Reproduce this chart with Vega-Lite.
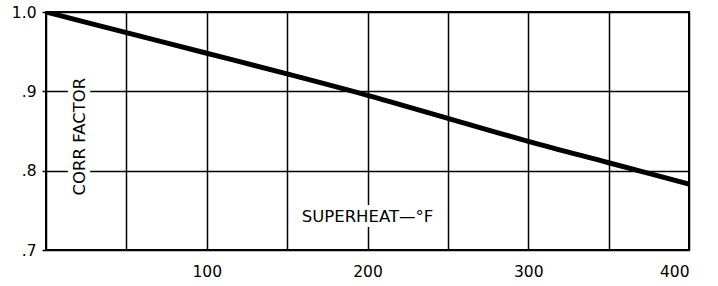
{
  "$schema": "https://vega.github.io/schema/vega-lite/v6.json",
  "width": 643,
  "height": 238,
  "autosize": "none",
  "padding": {"left": 46, "top": 12, "right": 29, "bottom": 36},
  "background": "white",
  "config": {
    "view": {"stroke": "black", "strokeWidth": 2},
    "font": "DejaVu Sans"
  },
  "datasets": {
    "labels": [
      {"sh": 21, "cf": 0.843, "t": "CORR FACTOR", "a": 270},
      {"sh": 200, "cf": 0.742, "t": "SUPERHEAT—°F", "a": 0}
    ]
  },
  "layer": [
    {
      "data": {"values": [
        {"sh": 0, "cf": 1.0},
        {"sh": 50, "cf": 0.974},
        {"sh": 100, "cf": 0.948},
        {"sh": 150, "cf": 0.922},
        {"sh": 200, "cf": 0.895},
        {"sh": 250, "cf": 0.866},
        {"sh": 300, "cf": 0.837},
        {"sh": 350, "cf": 0.810},
        {"sh": 400, "cf": 0.783}
      ]},
      "mark": {"type": "line", "color": "black", "strokeWidth": 5, "clip": true, "interpolate": "monotone"},
      "encoding": {
        "x": {"field": "sh", "type": "quantitative",
          "scale": {"domain": [0, 400], "nice": false},
          "axis": {"values": [0, 50, 100, 150, 200, 250, 300, 350, 400],
            "labelExpr": "datum.value % 100 == 0 && datum.value > 0 ? datum.label : ''",
            "title": null, "ticks": false, "domain": false,
            "grid": true, "gridColor": "black", "gridOpacity": 1, "gridWidth": 1.5,
            "labelFontSize": 15.5, "labelColor": "black", "labelPadding": 14, "labelFont": "DejaVu Sans"}},
        "y": {"field": "cf", "type": "quantitative",
          "scale": {"domain": [0.7, 1.0], "nice": false, "zero": false},
          "axis": {"values": [0.7, 0.8, 0.9, 1.0],
            "labelExpr": "datum.value >= 0.99 ? '1.0' : replace(format(datum.value, '.1f'), '0.', '.')",
            "title": null, "ticks": true, "tickColor": "black", "tickSize": 4, "tickWidth": 1.5, "domain": false,
            "grid": true, "gridColor": "black", "gridOpacity": 1, "gridWidth": 1.5,
            "labelFontSize": 15.5, "labelColor": "black", "labelPadding": 6, "labelFont": "DejaVu Sans"}}
      }
    },
    {
      "data": {"name": "labels"},
      "mark": {"type": "text", "fontSize": 16.5, "font": "DejaVu Sans", "color": "white", "stroke": "white", "strokeWidth": 10, "align": "center", "baseline": "middle"},
      "encoding": {
        "x": {"field": "sh", "type": "quantitative"},
        "y": {"field": "cf", "type": "quantitative"},
        "text": {"field": "t"},
        "angle": {"field": "a", "type": "quantitative", "scale": null}
      }
    },
    {
      "data": {"name": "labels"},
      "mark": {"type": "text", "fontSize": 16.5, "font": "DejaVu Sans", "color": "black", "align": "center", "baseline": "middle"},
      "encoding": {
        "x": {"field": "sh", "type": "quantitative"},
        "y": {"field": "cf", "type": "quantitative"},
        "text": {"field": "t"},
        "angle": {"field": "a", "type": "quantitative", "scale": null}
      }
    }
  ]
}
